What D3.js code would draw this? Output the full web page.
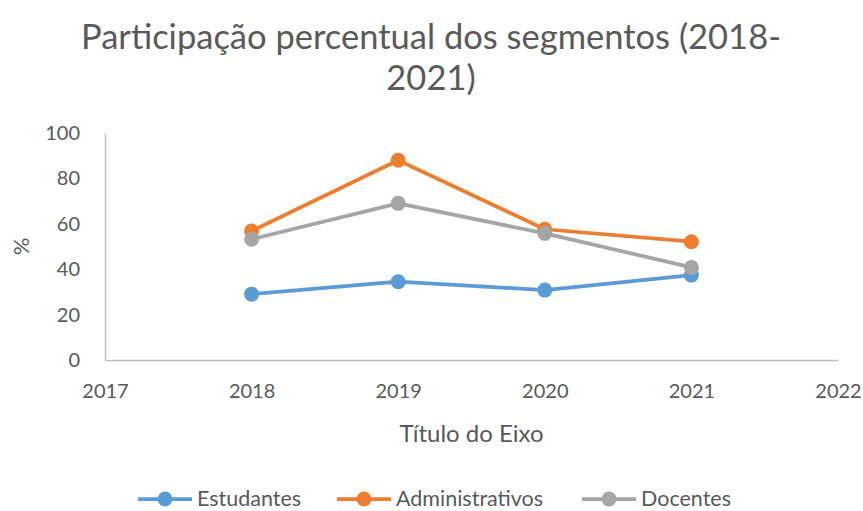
<!DOCTYPE html>
<html>
<head>
<meta charset="utf-8">
<script src="https://cdn.jsdelivr.net/npm/d3@7"></script>
<style>
  body { margin: 0; background: #fff; }
  text { font-family: Lato, "Open Sans", sans-serif; fill: #595959; }
</style>
</head>
<body>
<div id="chart"></div>
<script>
// data
var years = [2018, 2019, 2020, 2021];
var estudantes = [29, 34.5, 30.8, 37.4];
var administrativos = [56.8, 88, 57.6, 52.1];
var docentes = [53.2, 69, 55.8, 40.8];
var yTicks = [0, 20, 40, 60, 80, 100];
var xTicks = [2017, 2018, 2019, 2020, 2021, 2022];

var series = [
  { name: "Estudantes", values: estudantes, color: "#5B9BD5" },
  { name: "Administrativos", values: administrativos, color: "#ED7D31" },
  { name: "Docentes", values: docentes, color: "#A5A5A5" }
];

var width = 863, height = 511;
var margin = { top: 133, right: 25, bottom: 151, left: 105 };

var svg = d3.select("#chart")
  .append("svg")
  .attr("width", width)
  .attr("height", height);

var x = d3.scaleLinear()
  .domain([2017, 2022])
  .range([margin.left, width - margin.right]);

var y = d3.scaleLinear()
  .domain([0, 100])
  .range([height - margin.bottom, margin.top]);

// title
var title = svg.append("text")
  .attr("text-anchor", "middle")
  .style("font-size", "34.5px");
title.append("tspan").attr("x", 431).attr("y", 49).text("Participação percentual dos segmentos (2018-");
title.append("tspan").attr("x", 431).attr("y", 90).text("2021)");

// axes
var xAxis = svg.append("g")
  .attr("transform", "translate(0," + y(0) + ")")
  .call(d3.axisBottom(x).tickValues(xTicks).tickFormat(d3.format("d")).tickSize(0).tickPadding(24));
xAxis.select(".domain").attr("stroke", "#BFBFBF").attr("stroke-width", 1.5);
xAxis.selectAll("text").style("font-size", "20px").attr("fill", "#595959");

var yAxis = svg.append("g")
  .attr("transform", "translate(" + x(2017) + ",0)")
  .call(d3.axisLeft(y).tickValues(yTicks).tickSize(0).tickPadding(25));
yAxis.select(".domain").attr("stroke", "#BFBFBF").attr("stroke-width", 1.5);
yAxis.selectAll("text").style("font-size", "20px").attr("fill", "#595959");

// axis titles
svg.append("text")
  .attr("x", x(2019.5))
  .attr("y", 442)
  .attr("text-anchor", "middle")
  .style("font-size", "24px")
  .text("Título do Eixo");

svg.append("text")
  .attr("transform", "translate(29," + y(50) + ")rotate(-90)")
  .attr("text-anchor", "middle")
  .style("font-size", "22px")
  .text("%");

// lines
var line = d3.line()
  .x(function (d, i) { return x(years[i]); })
  .y(function (d) { return y(d); });

series.forEach(function (s) {
  svg.append("path")
    .datum(s.values)
    .attr("fill", "none")
    .attr("stroke", s.color)
    .attr("stroke-width", 3.75)
    .attr("stroke-linejoin", "round")
    .attr("d", line);
  svg.selectAll(null)
    .data(s.values)
    .enter()
    .append("circle")
    .attr("cx", function (d, i) { return x(years[i]); })
    .attr("cy", function (d) { return y(d); })
    .attr("r", 7.5)
    .attr("fill", s.color);
});

// legend
var legendX = [138, 337, 582];
var legend = svg.selectAll(".legend")
  .data(series)
  .enter()
  .append("g")
  .attr("transform", function (d, i) { return "translate(" + legendX[i] + ",499)"; });
legend.append("line")
  .attr("x1", 0).attr("x2", 54)
  .attr("stroke", function (d) { return d.color; })
  .attr("stroke-width", 3.75);
legend.append("circle")
  .attr("cx", 27).attr("r", 7.5)
  .attr("fill", function (d) { return d.color; });
legend.append("text")
  .attr("x", 59).attr("y", 7)
  .style("font-size", "21.5px")
  .text(function (d) { return d.name; });
</script>
</body>
</html>
